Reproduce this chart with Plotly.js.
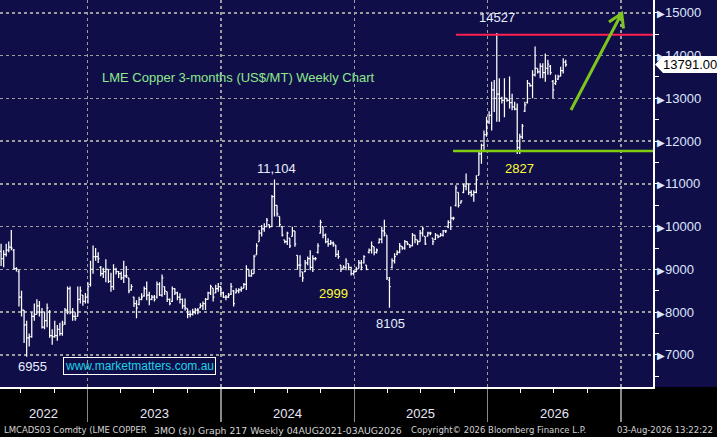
<!DOCTYPE html>
<html>
<head>
<meta charset="utf-8">
<script src="https://cdn.plot.ly/plotly-3.0.1.min.js"></script>
<style>html,body{margin:0;padding:0;background:#100e48;}#chart{width:717px;height:437px;}</style>
</head>
<body>
<div id="chart"></div>
<script>
// ---- Data (weekly bars) ----
const firstWeek = '2022-05-02';
const openPrices = [
 9600,9420,9250,9350,9450,9520,9450,9020,8950,8350,
 8050,7700,7400,7430,7900,7950,8150,8000,7650,7800,
 8000,7450,7430,7450,7600,7500,7750,8050,8550,8000,
 7900,7900,8300,8400,8250,8350,8650,9000,9300,9300,
 9050,8900,8950,9000,8720,8600,9000,8950,8900,8800,
 8850,8800,8520,8350,8200,8180,8300,8380,8550,8400,
 8300,8350,8350,8650,8400,8600,8480,8300,8250,8550,
 8450,8350,8300,8150,8080,7950,7950,8000,8050,8100,
 8150,8200,8300,8450,8560,8450,8550,8600,8450,8350,
 8350,8420,8500,8450,8500,8520,8560,8650,9000,8850,
 8900,9340,9650,9850,9950,10000,10050,10000,10700,10500,
 10240,10000,9690,9650,9730,9770,9900,9330,9100,8940,
 8950,9150,9250,9050,9250,9400,9850,10000,9800,9650,
 9600,9620,9570,9350,9100,9020,9050,9140,9050,8900,
 8950,9020,9150,9150,9100,9400,9450,9530,9400,9620,
 9700,9900,9800,8750,9050,9200,9350,9400,9540,9500,
 9650,9580,9550,9800,9690,9650,9850,9770,9780,9850,
 9730,9700,9800,9770,9800,9900,10000,10100,10200,10500,
 10800,10550,10800,10950,11000,10800,10750,10800,11200,11700,
 11900,12150,12450,12600,13200,13000,13100,13000,12950,13000,
 12950,12900,12800,12750,11850,12100,12700,12900,13350,13300,
 13550,13700,13620,13750,13600,13700,13750,13400,13350,13450,
 13520,13650,13850];
const highPrices = [
 9770,9600,9450,9600,9650,9920,9480,9050,8990,8500,
 8050,7800,7500,8000,8200,8300,8260,8100,8000,8200,
 8050,7600,7800,7700,7750,7800,8100,8600,8600,8100,
 8000,8600,8600,8400,8450,8700,9200,9560,9500,9400,
 9080,9040,9240,9000,8920,9120,9040,8960,8950,9200,
 9080,8800,8650,8360,8280,8360,8440,8600,8720,8480,
 8400,8400,8720,8700,8880,8600,8480,8320,8600,8560,
 8480,8440,8320,8320,8080,8040,8080,8100,8100,8210,
 8250,8330,8480,8640,8560,8640,8680,8600,8480,8400,
 8450,8680,8520,8560,8560,8600,8680,9100,9000,9000,
 9340,9610,9920,10040,10080,10200,10050,10740,11104,10500,
 10240,10000,9690,9880,9730,10000,9900,9330,9330,8940,
 9220,9300,9450,9330,9290,9610,10160,10000,9840,9730,
 9690,9650,9570,9450,9100,9100,9260,9140,9060,8980,
 9060,9220,9220,9330,9100,9490,9650,9530,9490,9730,
 10000,10160,9800,8820,9260,9380,9450,9620,9540,9690,
 9650,9580,9850,9810,9690,9920,10000,9770,9880,9880,
 9730,9850,9810,9850,9920,9920,10150,10470,10230,10970,
 10800,10620,11000,11240,11000,10850,10850,11200,11780,11940,
 12250,12570,12700,13390,13430,14527,13470,13040,13470,13000,
 13510,13110,12920,12880,12170,12400,12920,13430,13350,13660,
 14210,13700,13820,13820,14050,13900,13780,13430,13550,13550,
 13740,13940,13900];
const lowPrices = [
 9300,9080,9050,9300,9400,9450,9000,8950,8130,7900,
 7280,6955,7200,7400,7800,7950,7900,7620,7600,7650,
 7400,7240,7400,7330,7450,7450,7700,7950,7950,7800,
 7800,7900,8200,8150,8200,8200,8600,8900,9200,9150,
 8840,8800,8700,8680,8480,8520,8880,8800,8750,8680,
 8800,8440,8500,8120,7860,8160,8280,8360,8280,8160,
 8280,8250,8320,8380,8360,8400,8240,8160,8240,8400,
 8280,8200,8080,8040,7860,7880,7920,7950,7950,8090,
 8050,8050,8290,8400,8250,8440,8480,8400,8330,8280,
 8330,8400,8130,8440,8440,8480,8560,8520,8830,8830,
 8900,9340,9650,9770,9880,10000,9960,10000,10240,10240,
 10000,9770,9610,9570,9500,9770,9530,8990,8820,8710,
 8940,9100,8980,8940,9210,9370,9840,9730,9610,9530,
 9570,9530,9290,9250,8940,9020,8980,8980,8860,8860,
 8940,9020,8980,9140,8980,9370,9370,9330,9370,9610,
 9610,9770,8750,8105,9020,9140,9330,9380,9460,9460,
 9570,9500,9540,9610,9570,9650,9770,9570,9770,9800,
 9570,9690,9730,9770,9770,9850,9960,9920,10150,10470,
 10450,10540,10780,10850,10740,10700,10580,10780,11200,11470,
 11780,12100,12400,12250,12680,12450,12450,12880,12560,12920,
 12760,12720,12720,11700,11700,12050,12680,12880,13270,13000,
 13510,13580,13470,13470,13390,13550,13550,13000,13310,13430,
 13510,13580,13740];
const closePrices = [
 9420,9250,9350,9450,9520,9500,9020,9000,8350,8050,
 7700,7400,7430,7900,7950,8150,8000,7650,7800,8100,
 7450,7430,7450,7600,7500,7700,8050,8550,8000,7900,
 7850,8300,8500,8250,8350,8600,9000,9300,9300,9250,
 8900,8950,9000,8720,8600,9000,8950,8900,8800,8850,
 8850,8500,8600,8200,8100,8300,8350,8550,8400,8300,
 8350,8300,8650,8400,8800,8500,8300,8200,8550,8450,
 8350,8300,8150,8100,7950,7950,8000,8050,8050,8150,
 8200,8300,8450,8600,8350,8550,8600,8450,8350,8350,
 8400,8600,8200,8500,8520,8550,8650,9000,8850,8900,
 9300,9550,9850,9950,10000,10150,10000,10700,10500,10300,
 10050,9800,9650,9850,9550,9900,9600,9100,9100,8800,
 9150,9250,9050,9250,9250,9550,10100,9800,9650,9600,
 9620,9600,9350,9300,9000,9050,9200,9050,8900,8950,
 9000,9150,9050,9300,9000,9450,9550,9400,9450,9700,
 9900,9850,8800,8600,9200,9300,9400,9550,9500,9650,
 9600,9550,9800,9700,9650,9850,9950,9600,9850,9850,
 9650,9800,9760,9800,9900,9900,10100,10200,10200,10900,
 10500,10600,10950,11000,10800,10750,10800,11100,11700,11900,
 12150,12450,12600,13200,13000,13100,13000,12950,13000,12950,
 12900,12800,12750,11850,12100,12350,12850,13350,13300,13550,
 13700,13620,13750,13600,13700,13800,13600,13200,13400,13500,
 13650,13850,13791];
const yearLabels = ['2022','2023','2024','2025','2026'];
const yearLabelDates = ['2022-09-03','2023-07-02','2024-07-02','2025-07-02','2026-07-02'];
const yTickValues = [7000,8000,9000,10000,11000,12000,13000,14000,15000];
const lastPrice = 13791.00;
const resistanceLevel = 14490;
const supportLevel = 11770;
const calloutTexts = ['14527','11,104','2827','2999','8105','6955'];

// ---- Build ----
const startMs = Date.parse(firstWeek + 'T00:00:00Z');
const dates = closePrices.map((_, i) => new Date(startMs + i * 7 * 864e5).toISOString().slice(0, 10));

const yMin = 6250, yMax = 15300;
const W = 717, H = 437, mR = 64, mB = 50;
const plotW = W - mR, plotH = H - mB;
const px = x => x / plotW;
const py = y => 1 - y / plotH;
const yp = v => (v - yMin) / (yMax - yMin);

const FONT = 'Arial, "Liberation Sans", sans-serif';
const FOOT = '"DejaVu Sans", Verdana, sans-serif';
const gridCol = '#9c9c9c';

const trace = {
  type: 'ohlc', x: dates, open: openPrices, high: highPrices, low: lowPrices, close: closePrices,
  increasing: {line: {color: '#ffffff', width: 1.25}},
  decreasing: {line: {color: '#ffffff', width: 1.25}},
  tickwidth: 0.5, hoverinfo: 'skip'
};

const tri = '<span style="font-size:10px">\u25B6</span>';
const annotations = [];
const ann = (text, x, y, opts) => annotations.push(Object.assign({
  text, x, y, xref: 'paper', yref: 'paper', showarrow: false,
  xanchor: 'center', yanchor: 'middle', font: {family: FONT, size: 13, color: '#e6eeff'}
}, opts || {}));

ann('LME Copper 3-months (US$/MT) Weekly Chart', px(100), py(77), {xanchor: 'left', font: {family: FONT, size: 13, color: '#8ee88e'}});
ann(calloutTexts[0], px(497), py(18));
ann(calloutTexts[1], px(276), py(168));
ann(calloutTexts[2], px(519), py(169), {font: {family: FONT, size: 13, color: '#ffff33'}});
ann(calloutTexts[3], px(333), py(293), {font: {family: FONT, size: 13, color: '#ffff33'}});
ann(calloutTexts[4], px(390), py(323));
ann(calloutTexts[5], px(32), py(366));
ann('www.marketmatters.com.au', px(139), py(365.5), {bordercolor: '#ffffff', borderwidth: 1, borderpad: 1,
  font: {family: FONT, size: 12, color: '#1ed2e6'}});
yearLabels.forEach((t, i) => annotations.push({text: t, x: yearLabelDates[i], xref: 'x', y: py(413), yref: 'paper',
  showarrow: false, xanchor: 'center', yanchor: 'middle', font: {family: FONT, size: 13, color: '#e8e8f8'}}));
const footFont = {family: FOOT, size: 8.5, color: '#d4d4d4'};
ann('LMCADS03 Comdty (LME COPPER', px(2), py(430), {xanchor: 'left', font: footFont});
ann('3MO ($)) Graph 217 Weekly 04AUG2021-03AUG2026', px(152), py(430), {xanchor: 'left', font: {family: FOOT, size: 9.3, color: '#d4d4d4'}});
ann('Copyright\u00a9 2026 Bloomberg Finance L.P.', px(409), py(430), {xanchor: 'left', font: footFont});
ann('03-Aug-2026 13:22:22', px(715), py(430), {xanchor: 'right', font: footFont});
ann(lastPrice.toFixed(2), px(690), yp(lastPrice), {font: {family: FONT, size: 13, color: '#000000'}});

const tagH = 8.5 / plotH;
const shapes = [
  {type: 'rect', xref: 'paper', yref: 'paper', x0: -0.05, x1: 1.2, y0: -0.3, y1: 0, fillcolor: '#000000', line: {width: 0}, layer: 'below'},
  {type: 'line', xref: 'paper', yref: 'y', x0: px(456), x1: 1, y0: resistanceLevel, y1: resistanceLevel, line: {color: '#ff2050', width: 2}},
  {type: 'line', xref: 'paper', yref: 'y', x0: px(453), x1: 1, y0: supportLevel, y1: supportLevel, line: {color: '#80cc10', width: 2.5}},
  {type: 'path', xref: 'paper', yref: 'paper', line: {color: '#7dc41e', width: 3},
   path: `M ${px(571)},${py(110)} L ${px(621.7)},${py(13.3)} M ${px(609)},${py(22)} L ${px(621.7)},${py(13.3)} L ${px(623.5)},${py(28.5)}`},
  {type: 'path', xref: 'paper', yref: 'paper', fillcolor: '#ffffff', line: {width: 0},
   path: `M ${px(655)},${yp(lastPrice)} L ${px(663)},${yp(lastPrice)+tagH} L ${px(717)},${yp(lastPrice)+tagH} L ${px(717)},${yp(lastPrice)-tagH} L ${px(663)},${yp(lastPrice)-tagH} Z`}
];

const layout = {
  width: W, height: H, margin: {l: 0, r: mR, t: 0, b: mB, pad: 0},
  paper_bgcolor: '#100e48', plot_bgcolor: '#100e48', showlegend: false,
  font: {family: FONT},
  xaxis: {
    type: 'date', range: ['2022-05-06', '2027-03-30'], rangeslider: {visible: false},
    dtick: 'M12', tick0: '2023-01-01', ticks: 'outside', ticklen: 33, tickcolor: '#8a8a8a', tickwidth: 1.5,
    showticklabels: false, showgrid: true, gridcolor: gridCol, griddash: 'dot', gridwidth: 1.5,
    showline: true, linecolor: '#ffffff', linewidth: 1.5, zeroline: false, fixedrange: true,
    minor: {dtick: 'M3', tick0: '2023-01-01', ticks: 'outside', ticklen: 4, tickcolor: '#ffffff', tickwidth: 1, showgrid: false}
  },
  yaxis: {
    side: 'right', range: [yMin, yMax], tickmode: 'array', tickvals: yTickValues,
    ticktext: yTickValues.map(v => tri + v), ticks: '',
    tickfont: {family: FONT, size: 13, color: '#dde6ff'},
    showgrid: true, gridcolor: gridCol, griddash: 'dot', gridwidth: 1.5,
    showline: true, linecolor: '#ffffff', linewidth: 1.5, zeroline: false, fixedrange: true,
    minor: {dtick: 500, tick0: 0, ticks: 'outside', ticklen: 4, tickcolor: '#ffffff', tickwidth: 1, showgrid: false}
  },
  annotations, shapes
};

Plotly.newPlot('chart', [trace], layout, {displayModeBar: false, staticPlot: true});
</script>
</body>
</html>
